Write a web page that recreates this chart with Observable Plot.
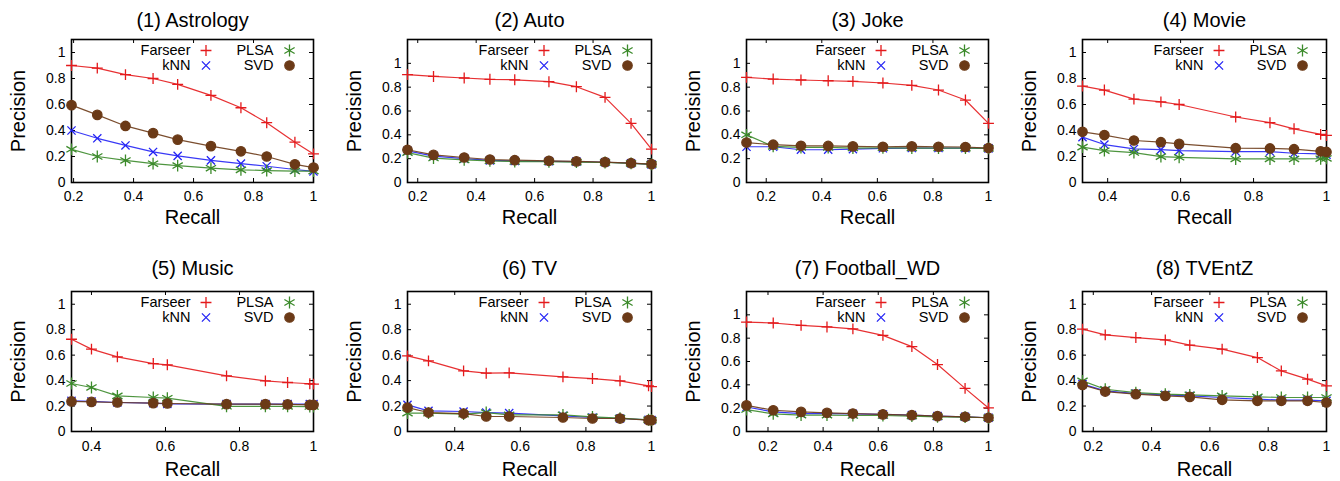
<!DOCTYPE html>
<html><head><meta charset="utf-8">
<script src="https://cdn.jsdelivr.net/npm/d3@7"></script>
<script src="https://cdn.jsdelivr.net/npm/@observablehq/plot@0.6"></script>
<style>
body{margin:0;background:#fff;}
#wrap{position:relative;width:1340px;height:481px;overflow:hidden;background:#fff;}
#wrap svg{position:absolute;}
</style></head><body><div id="wrap"></div>
<script>
const methods = ["Farseer", "kNN", "PLSA", "SVD"];
const titles = ["(1) Astrology", "(2) Auto", "(3) Joke", "(4) Movie", "(5) Music", "(6) TV", "(7) Football_WD", "(8) TVEntZ"];
const yTicks = [0, 0.2, 0.4, 0.6, 0.8, 1];
const yMax = [1.1, 1.2, 1.2, 1.1, 1.1, 1.1, 1.2, 1.1];
const xTicksA = [0.2, 0.4, 0.6, 0.8, 1];
const xTicksB = [0.4, 0.6, 0.8, 1];

// (1) Astrology
const recall1 = [0.193, 0.279, 0.373, 0.465, 0.547, 0.658, 0.758, 0.844, 0.938, 1.0];
const farseer1 = [0.90, 0.88, 0.83, 0.80, 0.755, 0.67, 0.575, 0.46, 0.31, 0.22];
const knn1 = [0.40, 0.34, 0.285, 0.235, 0.205, 0.17, 0.145, 0.125, 0.10, 0.085];
const plsa1 = [0.255, 0.20, 0.17, 0.145, 0.13, 0.11, 0.097, 0.092, 0.088, 0.088];
const svd1 = [0.595, 0.52, 0.435, 0.38, 0.33, 0.28, 0.24, 0.20, 0.14, 0.115];
// (2) Auto
const recall2 = [0.165, 0.254, 0.359, 0.447, 0.532, 0.649, 0.743, 0.841, 0.930, 1.0];
const farseer2 = [0.905, 0.89, 0.877, 0.866, 0.862, 0.846, 0.804, 0.714, 0.496, 0.28];
const knn2 = [0.265, 0.222, 0.20, 0.186, 0.18, 0.178, 0.175, 0.17, 0.162, 0.152];
const plsa2 = [0.25, 0.205, 0.19, 0.182, 0.176, 0.174, 0.171, 0.168, 0.16, 0.152];
const svd2 = [0.275, 0.232, 0.21, 0.193, 0.187, 0.182, 0.177, 0.171, 0.162, 0.154];
// (3) Joke
const recall3 = [0.129, 0.225, 0.325, 0.423, 0.512, 0.620, 0.724, 0.820, 0.917, 1.0];
const farseer3 = [0.882, 0.868, 0.86, 0.854, 0.849, 0.835, 0.815, 0.776, 0.692, 0.496];
const knn3 = [0.30, 0.30, 0.275, 0.275, 0.28, 0.287, 0.289, 0.289, 0.288, 0.286];
const plsa3 = [0.40, 0.303, 0.294, 0.294, 0.289, 0.291, 0.289, 0.289, 0.288, 0.286];
const svd3 = [0.335, 0.317, 0.308, 0.307, 0.303, 0.300, 0.303, 0.300, 0.298, 0.289];
// (4) Movie
const recall4 = [0.331, 0.391, 0.472, 0.546, 0.596, 0.751, 0.845, 0.911, 0.984, 1.0];
const farseer4 = [0.742, 0.711, 0.641, 0.62, 0.60, 0.504, 0.46, 0.413, 0.37, 0.362];
const knn4 = [0.349, 0.292, 0.258, 0.253, 0.245, 0.238, 0.238, 0.225, 0.22, 0.214];
const plsa4 = [0.272, 0.245, 0.23, 0.199, 0.194, 0.181, 0.181, 0.181, 0.183, 0.185];
const svd4 = [0.39, 0.365, 0.323, 0.31, 0.297, 0.264, 0.262, 0.256, 0.24, 0.235];
// (5) Music
const recall5 = [0.346, 0.400, 0.470, 0.567, 0.605, 0.765, 0.870, 0.930, 0.990, 1.0];
const farseer5 = [0.725, 0.647, 0.586, 0.534, 0.524, 0.437, 0.398, 0.385, 0.375, 0.372];
const knn5 = [0.241, 0.236, 0.228, 0.223, 0.217, 0.215, 0.215, 0.215, 0.215, 0.215];
const plsa5 = [0.377, 0.346, 0.28, 0.267, 0.262, 0.198, 0.197, 0.197, 0.196, 0.196];
const svd5 = [0.236, 0.233, 0.228, 0.223, 0.22, 0.215, 0.215, 0.213, 0.209, 0.209];
// (6) TV
const recall6 = [0.256, 0.320, 0.427, 0.496, 0.566, 0.730, 0.820, 0.904, 0.991, 1.0];
const farseer6 = [0.594, 0.555, 0.476, 0.458, 0.461, 0.429, 0.416, 0.398, 0.359, 0.353];
const knn6 = [0.209, 0.162, 0.157, 0.149, 0.144, 0.123, 0.110, 0.102, 0.092, 0.089];
const plsa6 = [0.144, 0.144, 0.136, 0.149, 0.131, 0.131, 0.115, 0.105, 0.092, 0.089];
const svd6 = [0.188, 0.149, 0.141, 0.118, 0.118, 0.110, 0.102, 0.102, 0.089, 0.089];
// (7) Football_WD
const recall7 = [0.122, 0.219, 0.320, 0.414, 0.508, 0.617, 0.722, 0.815, 0.915, 1.0];
const farseer7 = [0.938, 0.930, 0.910, 0.896, 0.880, 0.824, 0.728, 0.574, 0.370, 0.202];
const knn7 = [0.210, 0.168, 0.154, 0.154, 0.151, 0.146, 0.140, 0.132, 0.126, 0.118];
const plsa7 = [0.188, 0.151, 0.140, 0.140, 0.137, 0.137, 0.132, 0.126, 0.123, 0.118];
const svd7 = [0.224, 0.182, 0.168, 0.160, 0.154, 0.146, 0.140, 0.132, 0.126, 0.118];
// (8) TVEntZ
const recall8 = [0.163, 0.241, 0.346, 0.447, 0.531, 0.642, 0.763, 0.845, 0.935, 1.0];
const farseer8 = [0.804, 0.759, 0.738, 0.720, 0.678, 0.647, 0.581, 0.476, 0.411, 0.359];
const knn8 = [0.372, 0.319, 0.298, 0.288, 0.280, 0.267, 0.254, 0.246, 0.246, 0.241];
const plsa8 = [0.398, 0.332, 0.306, 0.293, 0.288, 0.280, 0.272, 0.267, 0.267, 0.267];
const svd8 = [0.366, 0.314, 0.293, 0.280, 0.272, 0.249, 0.241, 0.241, 0.241, 0.228];

const panels = [
  {recall: recall1, s: [farseer1, knn1, plsa1, svd1], xt: xTicksA},
  {recall: recall2, s: [farseer2, knn2, plsa2, svd2], xt: xTicksA},
  {recall: recall3, s: [farseer3, knn3, plsa3, svd3], xt: xTicksA},
  {recall: recall4, s: [farseer4, knn4, plsa4, svd4], xt: xTicksB},
  {recall: recall5, s: [farseer5, knn5, plsa5, svd5], xt: xTicksB},
  {recall: recall6, s: [farseer6, knn6, plsa6, svd6], xt: xTicksB},
  {recall: recall7, s: [farseer7, knn7, plsa7, svd7], xt: xTicksA},
  {recall: recall8, s: [farseer8, knn8, plsa8, svd8], xt: xTicksA}
];

const colors = {Farseer: "#e41a1c", kNN: "#2323f5", PLSA: "#3b8a2a", SVD: "#6b3a17"};
const symbols = {Farseer: "plus", kNN: "times", PLSA: "asterisk", SVD: "circle"};
const radii = {Farseer: 3.6, kNN: 3.8, PLSA: 5.6, SVD: 4.7};
const FONT = "'Liberation Sans', Arial, Helvetica, sans-serif";

const mlCol = [71, 72, 76, 77];
const mrCol = [22, 19, 17, 14];
const wrap = document.getElementById("wrap");

panels.forEach((p, i) => {
  const col = i % 4, row = Math.floor(i / 4);
  const width = 335, height = 240;
  const ml = mlCol[col], mr = mrCol[col];
  const mt = row ? 51 : 39, mb = row ? 49 : 58;
  const W = width - ml - mr, H = height - mt - mb;
  const rows = methods.flatMap((m, k) => p.recall.map((r, j) => ({method: m, recall: r, precision: p.s[k][j]})));
  const marks = [
    Plot.frame({stroke: "#000", strokeWidth: 1.6}),
    Plot.tickX(p.xt, {x: d => d, insetTop: H - 4, stroke: "#000", strokeWidth: 1}),
    Plot.tickX(p.xt, {x: d => d, insetBottom: H - 4, stroke: "#000", strokeWidth: 1}),
    Plot.tickY(yTicks, {y: d => d, insetRight: W - 4, stroke: "#000", strokeWidth: 1}),
    Plot.tickY(yTicks, {y: d => d, insetLeft: W - 4, stroke: "#000", strokeWidth: 1}),
    Plot.axisX({ticks: p.xt, tickSize: 0, tickPadding: row ? 10 : 9, tickFormat: "~g", label: null, fontSize: 14}),
    Plot.axisY({ticks: yTicks, tickSize: 0, tickPadding: 6, tickFormat: "~g", label: null, fontSize: 14}),
    Plot.text([titles[i]], {text: d => d, frameAnchor: "top", lineAnchor: "middle", dy: row ? -23 : -19, fontSize: 20}),
    Plot.text(["Precision"], {text: d => d, frameAnchor: "left", textAnchor: "middle", lineAnchor: "middle", rotate: -90, dx: -53, fontSize: 20}),
    Plot.text(["Recall"], {text: d => d, frameAnchor: "bottom", textAnchor: "middle", lineAnchor: "middle", dy: row ? 38 : 35, fontSize: 20})
  ];
  methods.forEach((m, k) => {
    const d = rows.filter(r => r.method === m);
    marks.push(Plot.line(d, {x: "recall", y: "precision", stroke: colors[m], strokeWidth: 1.2, strokeOpacity: 0.9}));
    marks.push(Plot.dot(d, {
      x: "recall", y: "precision", symbol: symbols[m], r: radii[m],
      stroke: colors[m], strokeWidth: 1.3,
      fill: m === "SVD" ? colors[m] : "none"
    }));
    const lc = Math.floor(k / 2), lr = k % 2;
    marks.push(Plot.text([m], {text: d => d, frameAnchor: "top-right", textAnchor: "end", lineAnchor: "middle", dx: lc ? -40 : -123, dy: lr ? 26 : 11, fontSize: 14.5}));
    marks.push(Plot.dot([m], {
      frameAnchor: "top-right", dx: lc ? -24 : -107.5, dy: lr ? 26 : 11,
      symbol: symbols[m], r: radii[m], stroke: colors[m], strokeWidth: 1.3,
      fill: m === "SVD" ? colors[m] : "none"
    }));
  });
  const svg = Plot.plot({
    width, height,
    marginLeft: ml, marginRight: mr, marginTop: mt, marginBottom: mb,
    x: {domain: [p.recall[0], 1]},
    y: {domain: [0, yMax[i]]},
    style: {fontFamily: FONT, background: "transparent", color: "#000", overflow: "visible"},
    marks
  });
  svg.style.left = (col * 335) + "px";
  svg.style.top = (row * 240) + "px";
  wrap.appendChild(svg);
});
</script>
</body></html>
